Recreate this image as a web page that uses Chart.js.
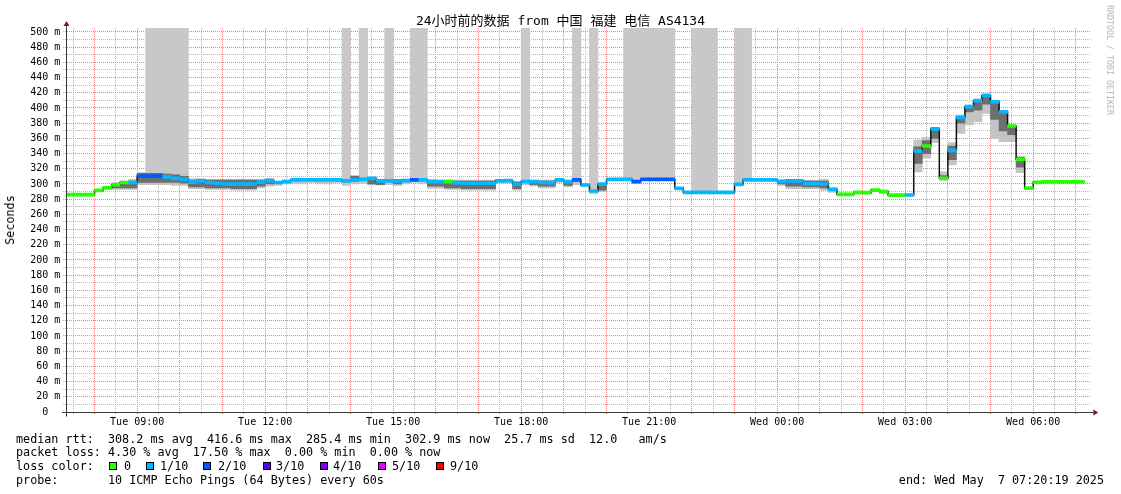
<!DOCTYPE html>
<html>
<head>
<meta charset="utf-8">
<script src="https://cdn.jsdelivr.net/npm/chart.js@4/dist/chart.umd.min.js"></script>
<style>
  body { margin: 0; background: #fff; }
  #wrap { position: relative; width: 1121px; height: 494px; overflow: hidden;
          font-family: "DejaVu Sans Mono", "Noto Sans CJK SC", monospace; color: #000; }
  canvas { position: absolute; left: 0; top: 0; }
  .txt { position: absolute; white-space: pre; font-size: 11.75px; line-height: 14px; }
  .sw { position: absolute; width: 8px; height: 8px; box-sizing: border-box; border: 1px solid #000; }
</style>
</head>
<body>
<div id="wrap">
  <canvas id="c" width="1121" height="494"></canvas>
  <div class="txt" style="left:0;width:1121px;top:13px;text-align:center;font-size:13px;line-height:16px">24小时前的数据 from 中国 福建 电信 AS4134</div>
  <div class="txt" style="left:10px;top:220px;transform:translate(-50%,-50%) rotate(-90deg)">Seconds</div>
  <div class="txt" style="left:1110px;top:60px;transform:translate(-50%,-50%) rotate(90deg);font-size:8.3px;color:#b4b4b4">RRDTOOL / TOBI OETIKER</div>
  <div class="txt" style="left:16px;top:432px">median rtt:  308.2 ms avg  416.6 ms max  285.4 ms min  302.9 ms now  25.7 ms sd  12.0   am/s</div>
  <div class="txt" style="left:16px;top:445px">packet loss: 4.30 % avg  17.50 % max  0.00 % min  0.00 % now</div>
  <div class="txt" style="left:16px;top:459px">loss color:</div>
  <div id="lossKey"></div>
  <div class="txt" style="left:16px;top:473px">probe:       10 ICMP Echo Pings (64 Bytes) every 60s</div>
  <div class="txt" style="right:17px;top:473px">end: Wed May  7 07:20:19 2025</div>
</div>
<script>
// time axis: minutes after Tue 00:00, one rrd step = 12 min
const stepStart = 432;
const stepMinutes = 12;
const viewStart = 440 + 19 / 60;
const viewEnd = viewStart + 1440;
const yTop = 505.26;

// median rtt per step (ms)
const median = [
  286, 286, 286, 286, 291.5, 295, 299, 302, 302, 310.5,
  310.5, 310.5, 309.5, 307.5, 306, 302.5, 304, 302, 301, 300,
  300, 300, 300, 302.5, 304.5, 302, 303, 305.3, 305.3, 305.3,
  305.3, 305.3, 305.3, 304, 305, 306, 307.4, 304, 304, 304,
  304.4, 305.3, 305.3, 303, 303, 303, 301.8, 301, 301, 301,
  301, 304, 304.4, 300, 303, 303, 302, 301.8, 305.3, 303,
  305.3, 298.7, 290.8, 300, 306, 306, 306, 303, 306, 306,
  306, 306, 294.3, 289, 289, 289, 289, 289, 289, 299.6,
  305.3, 305.3, 305.3, 305.3, 303.5, 304, 304, 300.4, 300.4, 300,
  293, 286.4, 286.4, 289, 288.6, 292, 289.9, 285.4, 285.4, 285.5,
  343.4, 350, 372.4, 307.4, 344.3, 387.7, 401.8, 409.6, 416.6, 408,
  395, 376.3, 332.5, 294.7, 302.2, 302.9, 302.9, 302.9, 302.9, 302.9
];

// loss class per step: index into lossColors
const loss = [
  0, 0, 0, 0, 0, 0, 0, 0, 1, 2,
  2, 2, 1, 1, 1, 1, 1, 1, 1, 1,
  1, 1, 1, 1, 1, 1, 1, 1, 1, 1,
  1, 1, 1, 1, 1, 1, 1, 1, 1, 1,
  1, 2, 1, 1, 1, 0, 1, 1, 1, 1,
  1, 1, 1, 1, 1, 1, 1, 1, 1, 1,
  2, 1, 1, 1, 1, 1, 1, 2, 2, 2,
  2, 2, 1, 1, 1, 1, 1, 1, 1, 1,
  1, 1, 1, 1, 1, 1, 1, 1, 1, 1,
  1, 0, 0, 0, 0, 0, 0, 0, 0, 1,
  1, 0, 1, 0, 1, 1, 1, 1, 1, 1,
  1, 0, 0, 0, 0, 0, 0, 0, 0, 0
];

// outer smoke (spread of all pings)
const smoke = [
  null, null, null, null, null, null, [293, 302], [293, 304], [293, 306], [299, 315],
  [299, 315], [299, 315], [299, 315], [298, 314], [298, 313], [294, 307], [294, 307], [293, 306], [293, 306], [293, 306],
  [292, 306], [292, 306], [292, 306], [295, 306], [297, 307.5], [298, 303], [300, 305], [300, 306], [300, 306], [302, 306],
  [300, 306], [300, 306], [302, 306], [298, 306], [300, 310.5], [301, 306], [298.7, 307.4], [298.7, 305], [299, 306], [298, 306],
  [300, 306], [302, 306], [300, 306], [294.3, 305], [294.3, 304], [293, 305], [293, 305], [292, 305.3], [292, 305.3], [292, 305.3],
  [292, 305.3], [301, 306], [301, 306], [292, 303], [298.7, 304], [297, 305], [295, 305], [295, 305], [302, 306], [296, 304],
  [299, 306], [297, 300], [287.7, 292], [290, 301], null, null, null, null, null, null,
  null, null, null, null, null, null, null, null, null, null,
  null, null, null, null, [298, 305], [294, 305.3], [294, 305.3], [294, 305], [294, 305], [292, 306],
  [289, 295], [286, 288], null, null, null, null, null, null, null, null,
  [316, 358], [334, 361.4], [354.4, 372.4], [305, 316], [325, 354.4], [366.7, 390.8], [377.6, 402.6], [382, 409.6], [393, 417], [360, 410.5],
  [355.7, 397], [355.7, 377.6], [315, 336.8], null, null, null, null, null, null, null
];

// inner smoke (pings close to the median)
const core = [
  null, null, null, null, null, null, [295, 300], [295, 302], [295, 304], [302, 314],
  [302, 314], [302, 314], [302, 313], [302, 312], [301, 310], [296, 305], [296, 305], [295, 305], [295, 305], [295, 305],
  [294, 305], [294, 305], [294, 305], [297, 305], [300, 306], null, null, null, null, null,
  null, null, null, null, [306, 310.5], null, [300, 306], [299, 304], null, [300, 305],
  null, null, null, [297, 305], [297, 304], [295, 304], [295, 304], [294, 304], [294, 304], [294, 304],
  [294, 304], null, null, [294, 303], null, [299, 304], [297, 304], [297, 304], null, [298, 304],
  null, null, null, [292, 298], null, null, null, null, null, null,
  null, null, null, null, null, null, null, null, null, null,
  null, null, null, null, [300, 304], [297, 305], [297, 305], [296, 304], [296, 304], [295, 304],
  null, null, null, null, null, null, null, null, null, null,
  [327, 349], [340, 357], [360, 372], [306, 311], [332, 350], [380, 389], [395, 402], [397, 409.6], [405, 416], [385, 408],
  [370, 395], [365, 377], [322, 335], null, null, null, null, null, null, null
];

// steps whose slowest pings ran off the top of the graph
const gapSteps = [10, 11, 12, 13, 14, 33, 35, 38, 41, 42, 54, 60, 62, 66, 67, 68, 69, 70, 71, 74, 75, 76, 79, 80];

const lossColors = ['#26ff00', '#00b8ff', '#0059ff', '#5e00ff', '#7e00ff', '#dd00ff', '#ff0000'];
const lossNames = ['0', '1/10', '2/10', '3/10', '4/10', '5/10', '9/10'];

const xLabelTimes = [540, 720, 900, 1080, 1260, 1440, 1620, 1800];
const xLabels = ['Tue 09:00', 'Tue 12:00', 'Tue 15:00', 'Tue 18:00', 'Tue 21:00', 'Wed 00:00', 'Wed 03:00', 'Wed 06:00'];

// legend swatches for the loss colours
const swatchX = [108.5, 145.5, 203, 262.5, 320, 377.5, 435.5];
const swatchTextX = [124, 160, 218, 276, 333, 392, 450];
const key = document.getElementById('lossKey');
lossNames.forEach((name, i) => {
  const s = document.createElement('div');
  s.className = 'sw';
  s.style.cssText = `left:${swatchX[i]}px;top:462px;background:${lossColors[i]}`;
  key.appendChild(s);
  const t = document.createElement('div');
  t.className = 'txt';
  t.style.cssText = `left:${swatchTextX[i]}px;top:459px`;
  t.textContent = name;
  key.appendChild(t);
});

const stepT = median.map((_, k) => stepStart + k * stepMinutes);
const midT = stepT.map(t => t + stepMinutes / 2);

const floatBars = ranges => ranges.map((r, k) => ({ x: midT[k], y: r ? [r[0], r[1]] : null }));

const gapBars = median.map((m, k) => ({
  x: midT[k],
  y: gapSteps.includes(k) ? [Math.max(m + 2, smoke[k] ? smoke[k][1] : m), yTop] : null
}));

const medianBand = median.map((m, k) => ({ x: midT[k], y: [m - 2, m + 2] }));

const medianLine = median.map((m, k) => ({ x: stepT[k], y: m }));
medianLine.push({ x: stepT[stepT.length - 1] + stepMinutes, y: median[median.length - 1] });

const gridMajor = 'rgb(240, 130, 130)';
const gridMinor = 'rgb(185, 185, 185)';

const xGridTicks = [];
for (let t = 450; t < viewEnd; t += 30) xGridTicks.push(t);
const yGridTicks = [];
for (let v = 0; v <= 500; v += 10) yGridTicks.push(v);

const rrdAxes = {
  id: 'rrdAxes',
  afterDraw(chart) {
    const { ctx, chartArea: a } = chart;
    const ax = Math.floor(a.left) + 0.5;
    const ay = Math.round(a.bottom) + 0.5;
    ctx.save();
    ctx.setLineDash([]);
    ctx.strokeStyle = '#3a3a3a';
    ctx.lineWidth = 1;
    ctx.beginPath();
    ctx.moveTo(ax, ay + 4);
    ctx.lineTo(ax, a.top - 4);
    ctx.moveTo(62, ay);
    ctx.lineTo(a.right + 3, ay);
    ctx.stroke();
    ctx.fillStyle = '#7a1c1c';
    ctx.beginPath();
    ctx.moveTo(ax, a.top - 7);
    ctx.lineTo(ax - 3, a.top - 2);
    ctx.lineTo(ax + 3, a.top - 2);
    ctx.closePath();
    ctx.fill();
    ctx.beginPath();
    ctx.moveTo(a.right + 8, ay);
    ctx.lineTo(a.right + 3, ay - 3);
    ctx.lineTo(a.right + 3, ay + 3);
    ctx.closePath();
    ctx.fill();
    ctx.restore();
  }
};

const barCommon = { grouped: false, barPercentage: 1, categoryPercentage: 1, borderWidth: 0 };

new Chart(document.getElementById('c'), {
  type: 'bar',
  data: {
    datasets: [
      { ...barCommon, data: gapBars, backgroundColor: '#c8c8c8', order: 6 },
      { ...barCommon, data: floatBars(smoke), backgroundColor: '#c4c4c4', order: 5 },
      { ...barCommon, data: floatBars(core), backgroundColor: '#6e6e6e', order: 4 },
      { type: 'line', data: medianLine, stepped: true, borderColor: '#111', borderWidth: 1.5,
        pointRadius: 0, fill: false, order: 3 },
      { ...barCommon, data: medianBand, backgroundColor: loss.map(c => lossColors[c]), order: 2 }
    ]
  },
  options: {
    responsive: false,
    animation: false,
    devicePixelRatio: 1,
    events: [],
    layout: { padding: { left: 0, top: 28, right: 30.7, bottom: 62 } },
    plugins: { legend: { display: false }, tooltip: { enabled: false } },
    scales: {
      x: {
        type: 'linear',
        min: viewStart,
        max: viewEnd,
        offset: false,
        afterFit: s => { s.height = 20; },
        afterBuildTicks: s => { s.ticks = xGridTicks.map(v => ({ value: v })); },
        grid: {
          offset: false,
          color: c => (c.tick && c.tick.value % 60 === 0 ? gridMajor : gridMinor),
          tickBorderDash: [1, 1],
          tickLength: 3
        },
        border: { display: true, color: '#3a3a3a', dash: [1, 1] },
        ticks: {
          autoSkip: false,
          maxRotation: 0,
          padding: 1,
          color: '#000',
          font: { family: 'DejaVu Sans Mono', size: 10 },
          callback: v => {
            const i = xLabelTimes.indexOf(v);
            return i >= 0 ? xLabels[i] : '';
          }
        }
      },
      y: {
        min: 0,
        max: yTop,
        afterFit: s => { s.width = 66.3; },
        afterBuildTicks: s => { s.ticks = yGridTicks.map(v => ({ value: v })); },
        grid: {
          color: c => (c.tick && c.tick.value % 20 === 0 ? gridMajor : gridMinor),
          tickBorderDash: [1, 1],
          tickLength: 3
        },
        border: { display: true, color: '#3a3a3a', dash: [1, 1] },
        ticks: {
          autoSkip: false,
          padding: 3,
          color: '#000',
          font: { family: 'DejaVu Sans Mono', size: 10 },
          callback: v => (v % 20 !== 0 ? '' : v === 0 ? '0  ' : v + ' m')
        }
      }
    }
  },
  plugins: [rrdAxes]
});
</script>
</body>
</html>
